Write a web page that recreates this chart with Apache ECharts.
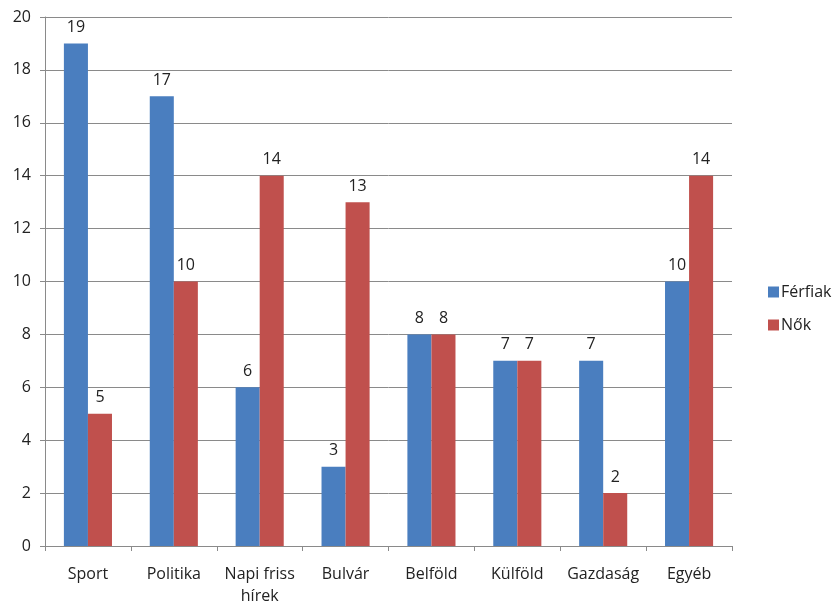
<!DOCTYPE html>
<html>
<head>
<meta charset="utf-8">
<script src="https://cdn.jsdelivr.net/npm/echarts@6/dist/echarts.min.js"></script>
<style>
  html, body { margin: 0; padding: 0; background: #fff; }
  #chart { width: 838px; height: 605px; }
</style>
</head>
<body>
<div id="chart"></div>
<script>
// Topics of interest by gender
const categories = ['Sport', 'Politika', 'Napi friss\nhírek', 'Bulvár', 'Belföld', 'Külföld', 'Gazdaság', 'Egyéb'];
const ferfiak = [19, 17, 6, 3, 8, 7, 7, 10];
const nok = [5, 10, 14, 13, 8, 7, 2, 14];
const yTicks = { min: 0, max: 20, interval: 2 };

const font = 'Open Sans, Noto Sans, sans-serif';
const chart = echarts.init(document.getElementById('chart'));

const labelStyle = {
  show: true,
  position: 'top',
  distance: 8,
  color: '#222',
  fontSize: 16,
  fontFamily: font
};

chart.setOption({
  animation: false,
  backgroundColor: '#fff',
  grid: { left: 45, right: 106, top: 17, bottom: 59, containLabel: false, outerBoundsMode: 'none' },
  legend: {
    orient: 'vertical',
    left: 763,
    top: 279,
    itemWidth: 11,
    itemHeight: 11,
    itemGap: 17,
    icon: 'rect',
    textStyle: { fontSize: 16, color: '#222', fontFamily: font, padding: [0, 0, 0, -3] },
    data: ['Férfiak', 'Nők']
  },
  xAxis: {
    type: 'category',
    data: categories,
    axisLine: { show: true, lineStyle: { color: '#8a8a8a', width: 1 } },
    axisTick: { show: true, alignWithLabel: false, length: 5, lineStyle: { color: '#8a8a8a' } },
    axisLabel: { color: '#222', fontSize: 16, fontFamily: font, margin: 17, lineHeight: 22, interval: 0 },
    splitLine: { show: false }
  },
  yAxis: {
    type: 'value',
    min: yTicks.min,
    max: yTicks.max,
    interval: yTicks.interval,
    axisLine: { show: true, lineStyle: { color: '#8a8a8a', width: 1 } },
    axisTick: { show: true, length: 5, lineStyle: { color: '#8a8a8a' } },
    axisLabel: { color: '#222', fontSize: 16, fontFamily: font, margin: 14 },
    splitLine: { show: true, lineStyle: { color: '#8a8a8a', width: 1 } }
  },
  series: [
    {
      name: 'Férfiak',
      type: 'bar',
      data: ferfiak,
      barGap: '0%',
      barCategoryGap: '44%',
      itemStyle: { color: '#4a7ebf' },
      label: labelStyle
    },
    {
      name: 'Nők',
      type: 'bar',
      data: nok,
      itemStyle: { color: '#c0504d' },
      label: labelStyle
    }
  ]
});
</script>
</body>
</html>
